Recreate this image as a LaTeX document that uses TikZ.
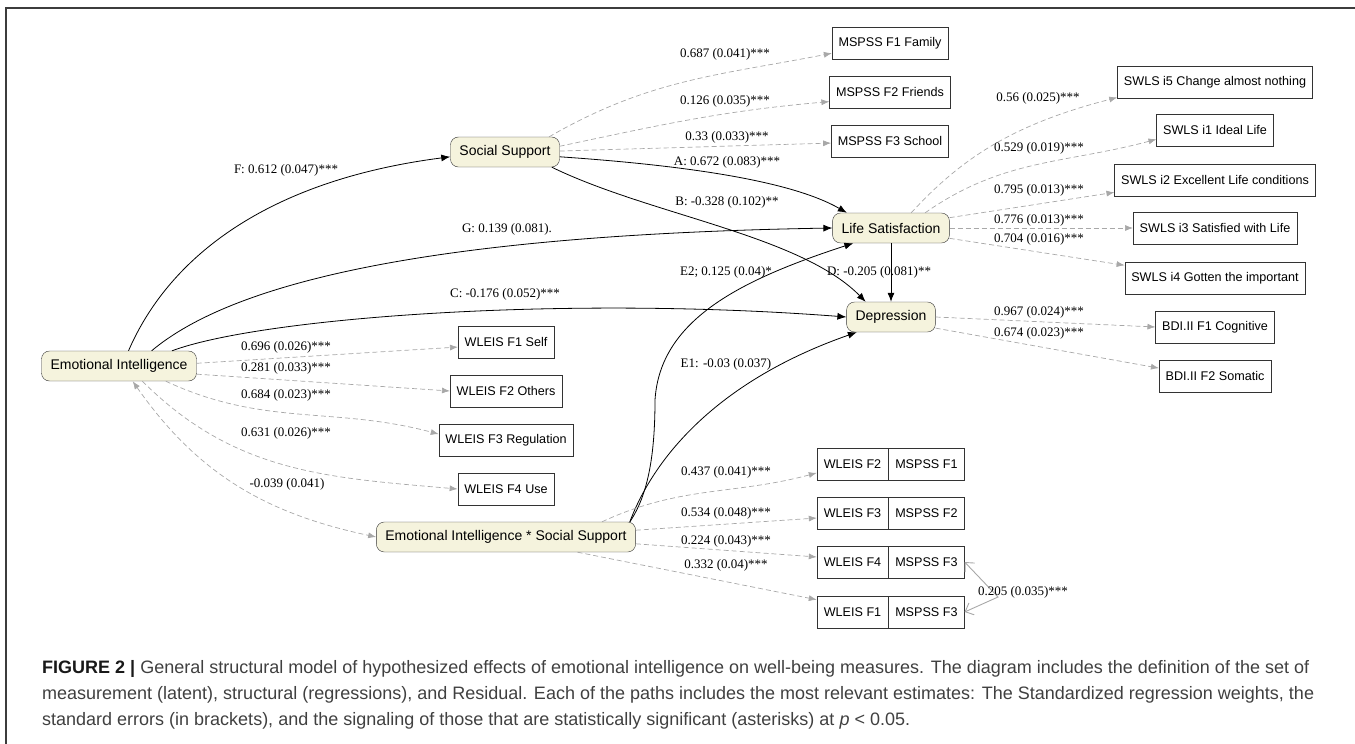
\documentclass[tikz,border=0pt]{standalone}
\usepackage{fontspec}
\setmainfont{Liberation Serif}
\setsansfont{Liberation Sans}
\usetikzlibrary{arrows.meta}
\definecolor{latentfill}{RGB}{245,243,221}
\definecolor{loadgray}{RGB}{168,168,168}
\definecolor{framegray}{RGB}{60,60,60}

\begin{document}
\begin{tikzpicture}
    [x=1pt, y=1pt,
     latent/.style={draw=black!80, fill=latentfill, rounded corners=8pt,
       minimum height=30pt, inner xsep=9pt, font=\sffamily\fontsize{14}{16}\selectfont},
     obs/.style={draw=black!80, fill=white, minimum height=32pt,
       inner xsep=6.5pt, font=\sffamily\fontsize{12.6}{14}\selectfont},
     regr/.style={->, >={Latex[length=9pt,width=7pt]}, line width=0.8pt},
     loading/.style={->, >={Latex[length=8pt,width=6pt]}, draw=loadgray,
       dash pattern=on 5pt off 3pt, line width=0.7pt},
     corr/.style={<->, >={Straight Barb[length=7pt,width=13pt]}, draw=loadgray, line width=0.9pt},
     lbl/.style={font=\fontsize{13}{15}\selectfont, inner sep=1pt}]
    \def \colB {890}  % measurement boxes of social support
    \def \colC {1215} % measurement boxes of life satisfaction / depression
    \def \colW {506}  % measurement boxes of emotional intelligence

    \useasboundingbox (0,0) rectangle (1355,-744);
    \draw[framegray, line width=1.4pt] (1356,-8) -- (6,-8) -- (6,-745);

    % latent variables
    \node[latent] (ss) at (505,-152) {Social Support};
    \node[latent] (ls) at (891,-228) {Life Satisfaction};
    \node[latent] (dep) at (891,-317) {Depression};
    \node[latent] (ei) at (119,-366) {Emotional Intelligence};
    \node[latent] (eiss) at (506,-537) {Emotional Intelligence * Social Support};

    % observed variables
    \foreach \name/\x/\y/\txt in {ms1/\colB/43/MSPSS F1 Family, ms2/\colB/92/MSPSS F2 Friends,
        ms3/\colB/141/MSPSS F3 School, sw5/\colC/82/SWLS i5 Change almost nothing,
        sw1/\colC/130/SWLS i1 Ideal Life, sw2/\colC/180/SWLS i2 Excellent Life conditions,
        sw3/\colC/228/SWLS i3 Satisfied with Life, sw4/\colC/278/SWLS i4 Gotten the important,
        bdi1/\colC/327/BDI.II F1 Cognitive, bdi2/\colC/376/BDI.II F2 Somatic,
        wl1/\colW/342/WLEIS F1 Self, wl2/\colW/391/WLEIS F2 Others,
        wl3/\colW/440/WLEIS F3 Regulation, wl4/\colW/489/WLEIS F4 Use}
      \node[obs] (\name) at (\x,-\y) {\txt};

    \foreach \i/\y/\a/\b in {1/464/WLEIS F2/MSPSS F1, 2/513/WLEIS F3/MSPSS F2,
        3/562/WLEIS F4/MSPSS F3, 4/612/WLEIS F1/MSPSS F3}
    {
      \node[obs, minimum width=71pt, inner xsep=0pt] (pr\i) at (852.5,-\y) {\a};
      \node[obs, minimum width=76pt, inner xsep=0pt, anchor=west] (pm\i) at (pr\i.east) {\b};
    }

    % structural paths
    \draw[regr] (ei.58) .. controls (170,-255) and (270,-180) .. (ss.185);
    \draw[regr] (ei.25) .. controls (230,-285) and (420,-235) .. (ls.west);
    \draw[regr] (ei.16) .. controls (260,-318) and (560,-295) .. (dep.west);
    \draw[regr] (ss.-5) .. controls (680,-165) and (790,-180) .. (ls.161);
    \draw[regr] (ss.-18) .. controls (650,-215) and (800,-235) .. (dep.149);
    \draw[regr] (ls.south) -- (dep.north);
    \draw[regr] (eiss.7) .. controls (648,-495) and (655,-455) .. (655,-400)
                .. controls (660,-320) and (740,-280) .. (ls.202);
    \draw[regr] (eiss.7) .. controls (655,-455) and (720,-380) .. (dep.204);

    % loadings
    \draw[loading] (ss.19) to[out=30, in=191] (ms1.190);
    \draw[loading] (ss.6) to[out=12, in=185] (ms2.189);
    \draw[loading] (ss.1) -- (ms3.182);
    \draw[loading] (ls.37) .. controls (960,-160) and (1010,-125) .. (sw5.189);
    \draw[loading] (ls.24) to[out=35, in=195] (sw1.189);
    \draw[loading] (ls.10) -- (sw2.187);
    \draw[loading] (ls.east) -- (sw3.west);
    \draw[loading] (ls.-10) -- (sw4.172);
    \draw[loading] (dep.east) -- (bdi1.west);
    \draw[loading] (dep.-14) -- (bdi2.172);
    \draw[loading] (ei.2) -- (wl1.186);
    \draw[loading] (ei.-6) -- (wl2.west);
    \draw[loading] (ei.-18) to[out=-25, in=165] (wl3.175);
    \draw[loading] (ei.-33) to[out=-45, in=175] (wl4.west);
    \draw[loading, <->] (ei.-48) to[out=-55, in=168] (eiss.west);
    \draw[loading] (eiss.9) to[out=25, in=195] (pr1.194);
    \draw[loading] (eiss.3) -- (pr2.188);
    \draw[loading] (eiss.-3) -- (pr3.172);
    \draw[loading] (eiss.-12) -- (pr4.161);

    \coordinate (cbend) at (998,-597);
    \draw[corr] (pm3.east) -- (cbend) -- (pm4.east);

    % estimates
    \foreach \x/\y/\t [count=\k] in {286/170/F: 0.612 (0.047)***, 507/229/G: 0.139 (0.081).,
        505/294/C: -0.176 (0.052)***, 727/162/A: 0.672 (0.083)***, 727/202/B: -0.328 (0.102)**,
        879/272/D: -0.205 (0.081)**, 726/272/E2; 0.125 (0.04)*, 726/364/E1: -0.03 (0.037),
        725/54/0.687 (0.041)***, 725/101/0.126 (0.035)***, 727/137/0.33 (0.033)***,
        1038/98/0.56 (0.025)***, 1039/148/0.529 (0.019)***, 1039/190/0.795 (0.013)***,
        1039/220/0.776 (0.013)***, 1039/239/0.704 (0.016)***,
        1039/312/0.967 (0.024)***, 1039/333/0.674 (0.023)***,
        286/347/0.696 (0.026)***, 286/368/0.281 (0.033)***, 286/395/0.684 (0.023)***,
        286/433/0.631 (0.026)***, 287/484/-0.039 (0.041),
        726/472/0.437 (0.041)***, 726/513/0.534 (0.048)***, 726/541/0.224 (0.043)***,
        726/565/0.332 (0.04)***, 1023/592/0.205 (0.035)***}
      \node[lbl] (lab\k) at (\x,-\y) {\t};

    \node[anchor=north west, align=left, inner sep=0pt, text=black!75,
          font=\sffamily\fontsize{18}{26}\selectfont] (caption) at (42,-660)
      {\textbf{\color{black!90}FIGURE 2 |} General structural model of hypothesized effects of emotional intelligence on well-being measures. The diagram includes the definition of the set of\\
       measurement (latent), structural (regressions), and Residual. Each of the paths includes the most relevant estimates: The Standardized regression weights, the\\
       standard errors (in brackets), and the signaling of those that are statistically significant (asterisks) at \textit{p} < 0.05.};
  \end{tikzpicture}
\end{document}
